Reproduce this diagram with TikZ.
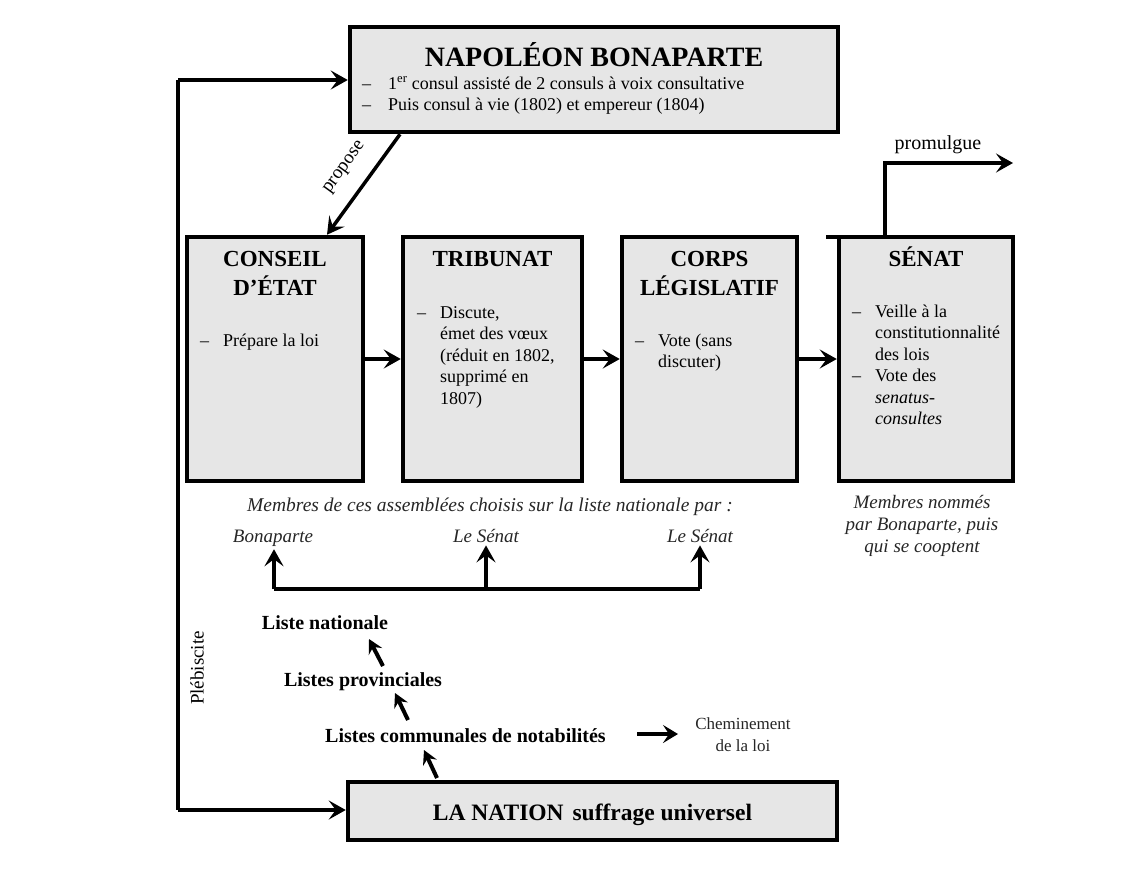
\documentclass[tikz,border=0pt]{standalone}
\usepackage{fontspec}
\setmainfont{Liberation Serif}
\usetikzlibrary{arrows.meta}
\definecolor{boxfill}{HTML}{E6E6E6}
\definecolor{softtext}{HTML}{262626}
\begin{document}
\begin{tikzpicture}[x=1pt,y=-1pt,
  box/.style={draw=black, line width=4.5pt, fill=boxfill, inner sep=0pt},
  ttl/.style={font=\fontsize{23}{28}\selectfont\bfseries, inner sep=0pt, anchor=base},
  body/.style={font=\fontsize{18}{21.5}\selectfont, inner sep=0pt, anchor=base west},
  itl/.style={font=\fontsize{19}{22}\selectfont\itshape, text=softtext, inner sep=0pt, anchor=base},
  lst/.style={font=\fontsize{20}{24}\selectfont\bfseries, inner sep=0pt, anchor=base},
  conn/.style={line width=3.5pt},
  arr/.style={line width=3.5pt, -{Stealth[length=17pt,width=19pt,inset=7pt]}},
  uparr/.style={line width=3.5pt, -{Stealth[length=17pt,width=19pt,inset=7pt]}},
  smallarr/.style={line width=4pt, -{Stealth[length=14pt,width=15pt,inset=5pt]}},
]
\useasboundingbox (0,0) rectangle (1142,876);

% --- boxes
\node[box, minimum width=488pt, minimum height=105pt] (napo) at (594,79.5) {};
\node[box, minimum width=176pt, minimum height=244pt] (conseil) at (275,359) {};
\node[box, minimum width=179pt, minimum height=244pt] (tribunat) at (492.5,359) {};
\node[box, minimum width=175pt, minimum height=244pt] (corps) at (709.5,359) {};
\node[box, minimum width=174pt, minimum height=244pt] (senat) at (926,359) {};
\node[box, minimum width=489pt, minimum height=58pt] (nation) at (592.5,811) {};

% --- Napoleon
\node[font=\fontsize{28}{32}\selectfont\bfseries, inner sep=0pt, anchor=base] (napot) at (594,66) {NAPOLÉON BONAPARTE};
\node[body] (napod1) at (362,89) {–};
\node[body] (napol1) at (388,89) {1\textsuperscript{er} consul assisté de 2 consuls à voix consultative};
\node[body] (napod2) at (362,110) {–};
\node[body] (napol2) at (388,110) {Puis consul à vie (1802) et empereur (1804)};

% --- Conseil d'Etat
\node[ttl] (conseilt1) at (275,266) {CONSEIL};
\node[ttl] (conseilt2) at (275,295) {D’ÉTAT};
\node[body] (conseild) at (200,346) {–};
\node[body] (conseill) at (223,346) {Prépare la loi};

% --- Tribunat
\node[ttl] (tribt) at (492.5,266) {TRIBUNAT};
\node[body] (tribd) at (417,318) {–};
\node[body] (tribl1) at (440,318) {Discute,};
\node[body] (tribl2) at (440,339.5) {émet des vœux};
\node[body] (tribl3) at (440,361) {(réduit en 1802,};
\node[body] (tribl4) at (440,382.5) {supprimé en};
\node[body] (tribl5) at (440,404) {1807)};

% --- Corps legislatif
\node[ttl] (corpst1) at (709.5,266) {CORPS};
\node[ttl] (corpst2) at (709.5,295) {LÉGISLATIF};
\node[body] (corpsd) at (635,346) {–};
\node[body] (corpsl1) at (658,346) {Vote (sans};
\node[body] (corpsl2) at (658,367.5) {discuter)};

% --- Senat
\node[ttl] (senatt) at (926,266) {SÉNAT};
\node[body] (senatd1) at (852,317) {–};
\node[body] (senatl1) at (875,317) {Veille à la};
\node[body] (senatl2) at (875,338.5) {constitutionnalité};
\node[body] (senatl3) at (875,360) {des lois};
\node[body] (senatd2) at (852,381.5) {–};
\node[body] (senatl4) at (875,381.5) {Vote des};
\node[body] (senatl5) at (875,403) {\textit{senatus-}};
\node[body] (senatl6) at (875,424.5) {\textit{consultes}};

% --- connectors between assemblies
\draw[arr] (conseil.east) -- (tribunat.west);
\draw[arr] (tribunat.east) -- (corps.west);
\draw[arr] (corps.east) -- (senat.west);

% propose
\draw[arr] ([xshift=-194pt]napo.south) -- ([xshift=52pt]conseil.north);
\node[font=\fontsize{19}{22}\selectfont, inner sep=0pt, rotate=54] (proposel) at (345,168) {propose};

% promulgue
\coordinate (promend) at (1013,163);
\draw[arr] ([xshift=-41pt]senat.north) |- (promend);
\node[font=\fontsize{20}{24}\selectfont, inner sep=0pt, anchor=base] (promul) at (938,149) {promulgue};
\coordinate (senatext) at (826,237);
\draw[line width=3.5pt] (senatext) -- (senat.north west |- senatext);

% plebiscite
\coordinate (pltop) at (178,80);
\coordinate (plbot) at (178,810);
\draw[arr] (pltop) -- (napo.west |- pltop);
\draw[conn] (pltop) -- (plbot);
\draw[arr] (plbot) -- (nation.west |- plbot);
\node[font=\fontsize{19}{22}\selectfont, inner sep=0pt, rotate=90] (plebl) at (197,668) {Plébiscite};

% --- members chosen
\node[itl, font=\fontsize{19.5}{22}\selectfont\itshape] (membres) at (490,511) {Membres de ces assemblées choisis sur la liste nationale par :};
\node[itl] (bona) at (273,542) {Bonaparte};
\node[itl] (sen1) at (486,542) {Le Sénat};
\node[itl] (sen2) at (700,542) {Le Sénat};
\coordinate (hb1) at (274,589);
\coordinate (hb2) at (486,589);
\coordinate (hb3) at (700,589);
\draw[conn] (hb1) -- (hb3);
\draw[uparr, shorten >=3pt] (hb1) -- (bona.south -| hb1);
\draw[uparr, shorten >=3pt] (hb2) -- (sen1.south -| hb2);
\draw[uparr, shorten >=3pt] (hb3) -- (sen2.south -| hb3);

\node[itl] (nomm1) at (922,508) {Membres nommés};
\node[itl] (nomm2) at (922,530) {par Bonaparte, puis};
\node[itl] (nomm3) at (922,552) {qui se cooptent};

% --- lists
\node[lst] (lnat) at (325,629) {Liste nationale};
\node[lst] (lprov) at (363,686) {Listes provinciales};
\node[lst, anchor=base west] (lcomm) at (325,742) {Listes communales de notabilités};
\coordinate (d1s) at (383,666); \coordinate (d1e) at (369,639);
\coordinate (d2s) at (408,720); \coordinate (d2e) at (395,693);
\coordinate (d3s) at (437,778); \coordinate (d3e) at (424,750);
\draw[smallarr] (d1s) -- (d1e);
\draw[smallarr] (d2s) -- (d2e);
\draw[smallarr] (d3s) -- (d3e);

% --- legend
\coordinate (legs) at (637,734);
\coordinate (lege) at (678,734);
\draw[line width=4pt, -{Stealth[length=15pt,width=18pt,inset=6pt]}] (legs) -- (lege);
\node[font=\fontsize{17}{21}\selectfont, text=softtext, inner sep=0pt, anchor=base] (leg1) at (743,729) {Cheminement};
\node[font=\fontsize{17}{21}\selectfont, text=softtext, inner sep=0pt, anchor=base] (leg2) at (743,751) {de la loi};

% --- nation
\node[font=\fontsize{23.5}{28}\selectfont\bfseries, inner sep=0pt, anchor=base] (nationt) at (592.5,820) {LA NATION\hspace{3pt} suffrage universel};
\end{tikzpicture}
\end{document}
